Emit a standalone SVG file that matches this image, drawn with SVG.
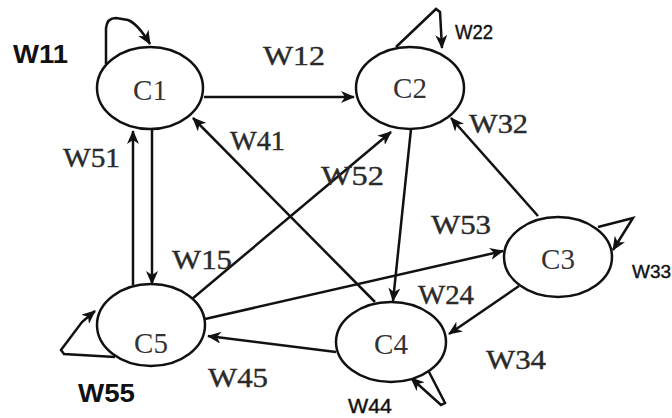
<svg xmlns="http://www.w3.org/2000/svg" width="672" height="418" viewBox="0 0 672 418">
<style>
.node{fill:#fff;stroke:#111;stroke-width:2.5}
.edge{fill:none;stroke:#111;stroke-width:2.5;marker-end:url(#ah)}
.nt{font-family:"Liberation Serif",serif;font-size:29px;fill:#333;text-anchor:middle}
.ls{font-family:"Liberation Serif",serif;font-size:27px;fill:#2a2a2a;stroke:#2a2a2a;stroke-width:0.4}
.lb{font-family:"Liberation Sans",sans-serif;font-size:25px;font-weight:bold;fill:#111}
.lr{font-family:"Liberation Sans",sans-serif;font-size:20px;fill:#111;stroke:#111;stroke-width:0.4}
</style>
<defs>
<marker id="ah" markerUnits="userSpaceOnUse" viewBox="0 0 14 12" markerWidth="14" markerHeight="12" refX="13" refY="6" orient="auto">
<path d="M0,0 L14,6 L0,12 L4,6 z" fill="#111"/>
</marker>
</defs>
<rect width="672" height="418" fill="#fff"/>
<g id="connectors">
<line class="edge" x1="204" y1="97" x2="354" y2="97"/>
<line class="edge" x1="152" y1="129" x2="152" y2="284"/>
<line class="edge" x1="133" y1="285" x2="133" y2="131"/>
<line class="edge" x1="375" y1="302" x2="193" y2="118"/>
<line class="edge" x1="192" y1="299" x2="391" y2="132"/>
<line class="edge" x1="411" y1="129" x2="393" y2="301"/>
<line class="edge" x1="538" y1="216" x2="451" y2="118"/>
<line class="edge" x1="205" y1="319" x2="503" y2="251"/>
<line class="edge" x1="519" y1="286" x2="449" y2="334"/>
<line class="edge" x1="336" y1="352" x2="208" y2="336"/>
<path class="edge" d="M106,64 L106,28 Q107,18 116,18 L128,20 Q138,24 150,44"/>
<path class="edge" d="M396,47 L436,9 L440,12 L442,48"/>
<path class="edge" d="M598,227 L633,218 L613,250"/>
<path class="edge" d="M428,370 L445,403 L441,405 L411,378"/>
<path class="edge" d="M115,357 L64,354 L61,350 L82,322 L95,311"/>
</g>
<g id="C1"><ellipse class="node" cx="150" cy="88" rx="53" ry="41"/><text class="nt" x="150" y="100">C1</text></g>
<g id="C2"><ellipse class="node" cx="410" cy="88" rx="54" ry="41"/><text class="nt" x="410" y="98">C2</text></g>
<g id="C3"><ellipse class="node" cx="558" cy="257" rx="54" ry="40"/><text class="nt" x="558" y="269">C3</text></g>
<g id="C4"><ellipse class="node" cx="391" cy="342" rx="55" ry="40"/><text class="nt" x="391" y="354">C4</text></g>
<g id="C5"><ellipse class="node" cx="151" cy="325" rx="54" ry="41"/><text class="nt" x="151" y="353">C5</text></g>
<g id="labels">
<text class="lb" x="13" y="63" textLength="55" lengthAdjust="spacingAndGlyphs">W11</text>
<text class="lb" x="78" y="402" textLength="57" lengthAdjust="spacingAndGlyphs">W55</text>
<text class="lr" x="455" y="39" textLength="38" lengthAdjust="spacingAndGlyphs">W22</text>
<text class="lr" x="632" y="278" style="font-size:19px">W33</text>
<text class="lr" x="348" y="413" textLength="44" lengthAdjust="spacingAndGlyphs">W44</text>
<text class="ls" x="263" y="65" textLength="62" lengthAdjust="spacingAndGlyphs">W12</text>
<text class="ls" x="230" y="150" textLength="55" lengthAdjust="spacingAndGlyphs">W41</text>
<text class="ls" x="63" y="167" textLength="57" lengthAdjust="spacingAndGlyphs">W51</text>
<text class="ls" x="321" y="185" textLength="63" lengthAdjust="spacingAndGlyphs">W52</text>
<text class="ls" x="469" y="133" textLength="59" lengthAdjust="spacingAndGlyphs">W32</text>
<text class="ls" x="172" y="269" textLength="60" lengthAdjust="spacingAndGlyphs">W15</text>
<text class="ls" x="208" y="387" textLength="60" lengthAdjust="spacingAndGlyphs">W45</text>
<text class="ls" x="431" y="234" textLength="60" lengthAdjust="spacingAndGlyphs">W53</text>
<text class="ls" x="418" y="304" textLength="56" lengthAdjust="spacingAndGlyphs">W24</text>
<text class="ls" x="486" y="369" textLength="60" lengthAdjust="spacingAndGlyphs">W34</text>
</g>
</svg>
